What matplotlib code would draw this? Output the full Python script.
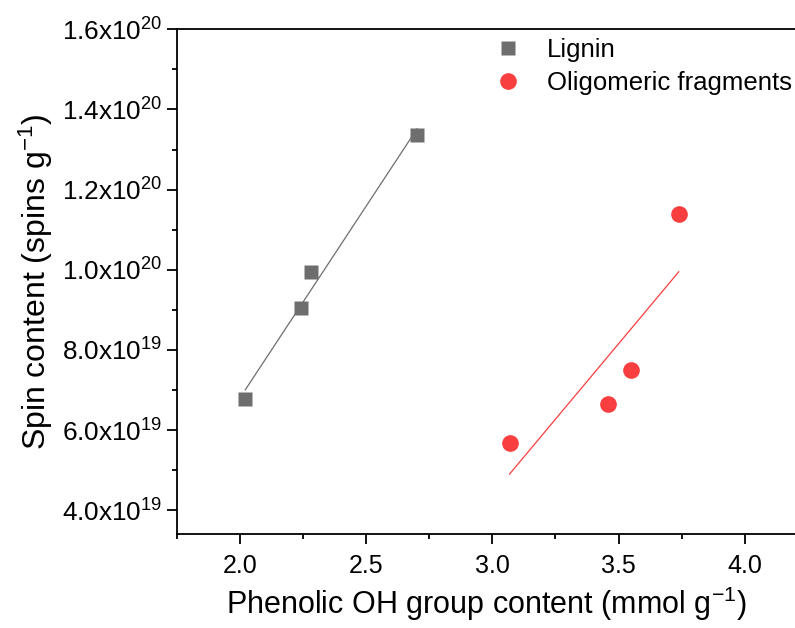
import numpy as np
import matplotlib
matplotlib.use("Agg")
import matplotlib.pyplot as plt
from matplotlib.ticker import FuncFormatter, MultipleLocator

plt.rcParams['font.family'] = ['Liberation Sans', 'DejaVu Sans']
plt.rcParams['mathtext.fontset'] = 'custom'
plt.rcParams['mathtext.rm'] = 'Liberation Sans'
plt.rcParams['mathtext.it'] = 'Liberation Sans:italic'
plt.rcParams['mathtext.bf'] = 'Liberation Sans:bold'

# Data
lignin_x = [2.02, 2.241, 2.280, 2.701]
lignin_y = [6.78e19, 9.04e19, 9.95e19, 1.337e20]
oligo_x = [3.068, 3.459, 3.549, 3.739]
oligo_y = [5.69e19, 6.66e19, 7.49e19, 1.138e20]
x_ticks = [2.0, 2.5, 3.0, 3.5, 4.0]
y_ticks = [4e19, 6e19, 8e19, 1.0e20, 1.2e20, 1.4e20, 1.6e20]

gray = '#6e6e6e'
red = '#f83e3e'

fig = plt.figure(figsize=(7.95, 6.28), dpi=100)
ax = fig.add_axes([0.2230, 0.1492, 0.7770, 0.8041])

# fit lines
for xs, ys, c in [(lignin_x, lignin_y, gray), (oligo_x, oligo_y, red)]:
    xs_a = np.array(xs)
    p = np.polyfit(xs_a, np.array(ys), 1)
    xx = np.array([xs_a.min(), xs_a.max()])
    ax.plot(xx, np.polyval(p, xx), '-', color=c, lw=0.9, zorder=2)

ax.plot(lignin_x, lignin_y, 's', color=gray, ms=10.5, mec='none', ls='none',
        label='Lignin', zorder=3)
ax.plot(oligo_x, oligo_y, 'o', color=red, ms=12, mec='none', ls='none',
        label='Oligomeric fragments', zorder=3)

ax.set_xlim(1.75, 4.2)
ax.set_ylim(3.4e19, 1.6e20)
ax.set_xticks(x_ticks)
ax.set_yticks(y_ticks)
ax.xaxis.set_minor_locator(MultipleLocator(0.25))
ax.yaxis.set_minor_locator(MultipleLocator(1e19))


def yfmt(v, pos):
    e = int(np.floor(np.log10(v) + 1e-9))
    m = v / 10**e
    return r'%.1fx10$^{%d}$' % (m, e)


ax.yaxis.set_major_formatter(FuncFormatter(yfmt))
ax.xaxis.set_major_formatter(FuncFormatter(lambda v, p: '%.1f' % v))

ax.spines['right'].set_visible(False)
for s in ['left', 'bottom', 'top']:
    ax.spines[s].set_linewidth(1.3)

ax.tick_params(which='major', direction='out', length=7, width=1.3,
               labelsize=18, pad=4)
ax.tick_params(axis='y', which='major', labelsize=18.8)
ax.tick_params(axis='x', which='major', pad=7)
ax.tick_params(which='minor', direction='out', length=3.5, width=1.3)
ax.tick_params(top=False, right=False, which='both')

ax.set_xlabel(r'Phenolic OH group content (mmol g$^{\mathregular{-1}}$)', fontsize=22, labelpad=5)
ax.set_ylabel(r'Spin content (spins g$^{\mathregular{-1}}$)', fontsize=23, labelpad=5)

ax.legend(loc='upper left', bbox_to_anchor=(0.49, 1.014), frameon=False,
          fontsize=18.5, handlelength=1.0, handletextpad=1.0,
          labelspacing=0.38, borderaxespad=0.2)

fig.savefig('out.png', dpi=100)
